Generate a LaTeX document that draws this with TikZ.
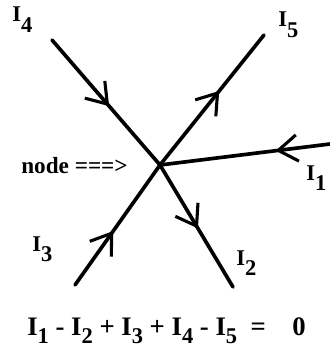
\documentclass[tikz,border=0pt]{standalone}
\usepackage{fontspec}
\setmainfont{Liberation Serif}
\usetikzlibrary{arrows.meta,decorations.markings}
\newcommand{\Isub}[2][0.45em]{I\raisebox{-#1}{#2}}
\newcommand{\Ieq}[1]{\Isub[0.3em]{\fontsize{16}{18}\selectfont #1}}

\begin{document}
\begin{tikzpicture}[x=0.025cm, y=-0.025cm, every node/.style={font=\bfseries\fontsize{16}{18}\selectfont, inner sep=0pt},
	wire/.style={line width=2.6pt, line cap=round},
	flow/.style={wire, postaction={decorate}, decoration={markings, mark=at position #1 with {\arrow[line width=2.2pt]{Straight Barb[length=4.8mm, width=6.6mm]}}}}]
	\useasboundingbox (0,0) rectangle (329,348);
	\coordinate (jn) at (160,165);
	\coordinate (e1) at (330,144);
	\coordinate (e2) at (233,287);
	\coordinate (e3) at (75,285);
	\coordinate (e4) at (52,40);
	\coordinate (e5) at (264,35);
	\draw[flow=0.32] (e1) -- (jn);
	\draw[flow=0.52] (jn) -- (e2);
	\draw[flow=0.45] (e3) -- (jn);
	\draw[flow=0.53] (e4) -- (jn);
	\draw[flow=0.57] (jn) -- (e5);
	\node[anchor=base west] (l4) at (12,22) {\Isub{4}};
	\node[anchor=base west] (l5) at (278,27) {\Isub{5}};
	\node[anchor=base west] (l1) at (306,180) {\Isub{1}};
	\node[anchor=base west] (l3) at (32,251) {\Isub{3}};
	\node[anchor=base west] (l2) at (236,265) {\Isub{2}};
	\node[font=\bfseries\fontsize{16.5}{18}\selectfont, anchor=base west] (lbl) at (21,173) {node ===>};
	\node[font=\bfseries\fontsize{19}{21}\selectfont, anchor=base west] (eq) at (27,335) {\Ieq{1} - \Ieq{2} + \Ieq{3} + \Ieq{4} - \Ieq{5} \ =\quad 0};
\end{tikzpicture}
\end{document}
